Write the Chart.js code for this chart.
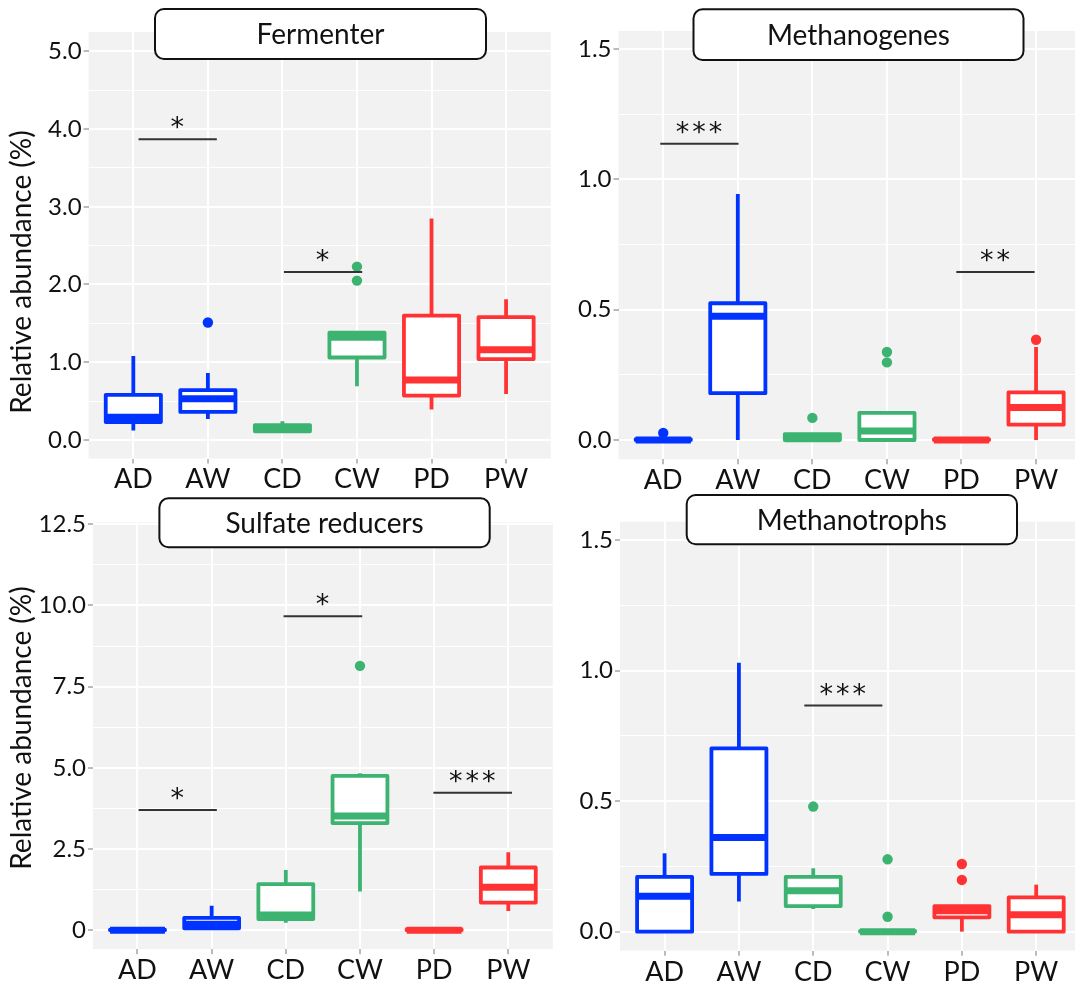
<!DOCTYPE html>
<html>
<head>
<meta charset="utf-8">
<script src="https://cdn.jsdelivr.net/npm/chart.js@4.4.1/dist/chart.umd.min.js"></script>
<style>
  html, body { margin: 0; padding: 0; width: 1075px; height: 985px; overflow: hidden; background: #fff; }
  .panel { position: absolute; }
</style>
</head>
<body>
<div class="panel" style="left:0px;top:0px"><canvas id="ferm" width="556" height="495"></canvas></div>
<div class="panel" style="left:540px;top:0px"><canvas id="mg" width="546" height="495"></canvas></div>
<div class="panel" style="left:0px;top:490px"><canvas id="sr" width="558" height="495"></canvas></div>
<div class="panel" style="left:540px;top:490px"><canvas id="mt" width="546" height="495"></canvas></div>
<script>
const categories = ["AD", "AW", "CD", "CW", "PD", "PW"];
const groupColors = ["#0033ff", "#0033ff", "#3cb371", "#3cb371", "#ff3333", "#ff3333"];

// Fermenter
const fermLow  = [0.12, 0.27, 0.10, 0.69, 0.39, 0.59];
const fermQ1   = [0.23, 0.36, 0.11, 1.06, 0.57, 1.04];
const fermMed  = [0.29, 0.53, 0.15, 1.32, 0.77, 1.16];
const fermQ3   = [0.58, 0.64, 0.19, 1.38, 1.60, 1.58];
const fermHigh = [1.08, 0.86, 0.24, 1.38, 2.85, 1.81];
const fermOutX = [1, 3, 3];
const fermOutY = [1.51, 2.23, 2.05];
const fermTicks = [0, 1, 2, 3, 4, 5];
const fermTickLabels = ["0.0", "1.0", "2.0", "3.0", "4.0", "5.0"];
const fermSigFrom = [0.07, 2.02];
const fermSigTo = [1.12, 3.07];
const fermSigY = [3.87, 2.16];
const fermSigText = ["*", "*"];

// Methanogenes
const mgLow  = [0, 0, 0, 0, 0, 0];
const mgQ1   = [0, 0.18, 0, 0, 0, 0.059];
const mgMed  = [0, 0.475, 0.005, 0.035, 0, 0.125];
const mgQ3   = [0.003, 0.525, 0.023, 0.104, 0.003, 0.183];
const mgHigh = [0.003, 0.944, 0.023, 0.104, 0.003, 0.357];
const mgOutX = [0, 2, 3, 3, 5];
const mgOutY = [0.027, 0.085, 0.338, 0.298, 0.385];
const mgTicks = [0, 0.5, 1, 1.5];
const mgTickLabels = ["0.0", "0.5", "1.0", "1.5"];
const mgSigFrom = [-0.04, 3.93];
const mgSigTo = [1.01, 4.98];
const mgSigY = [1.137, 0.645];
const mgSigText = ["***", "**"];

// Sulfate reducers
const srLow  = [0, 0.05, 0.23, 1.19, 0, 0.59];
const srQ1   = [0, 0.06, 0.345, 3.30, 0, 0.85];
const srMed  = [0, 0.18, 0.47, 3.52, 0, 1.32];
const srQ3   = [0.02, 0.38, 1.42, 4.75, 0.03, 1.93];
const srHigh = [0.02, 0.75, 1.85, 4.83, 0.03, 2.40];
const srOutX = [3];
const srOutY = [8.14];
const srTicks = [0, 2.5, 5, 7.5, 10, 12.5];
const srTickLabels = ["0", "2.5", "5.0", "7.5", "10.0", "12.5"];
const srSigFrom = [0.015, 1.97, 3.99];
const srSigTo = [1.07, 3.03, 5.05];
const srSigY = [3.70, 9.67, 4.23];
const srSigText = ["*", "*", "***"];

// Methanotrophs
const mtLow  = [0, 0.115, 0.087, 0, 0, 0];
const mtQ1   = [0, 0.221, 0.098, 0, 0.055, 0];
const mtMed  = [0.136, 0.361, 0.157, 0, 0.08, 0.065];
const mtQ3   = [0.21, 0.702, 0.21, 0.003, 0.098, 0.131];
const mtHigh = [0.30, 1.03, 0.243, 0.003, 0.098, 0.18];
const mtOutX = [2, 3, 3, 4, 4];
const mtOutY = [0.479, 0.277, 0.057, 0.259, 0.198];
const mtTicks = [0, 0.5, 1, 1.5];
const mtTickLabels = ["0.0", "0.5", "1.0", "1.5"];
const mtSigFrom = [1.88];
const mtSigTo = [2.93];
const mtSigY = [0.866];
const mtSigText = ["***"];

const FONT = "Lato, 'Open Sans', sans-serif";
const STAR_FONT = "'DejaVu Sans', sans-serif";
const yTitle = "Relative abundance (%)";

const makePanel = (id, p) => {
  const ticksAll = [];
  p.ticks.forEach((t, i) => {
    ticksAll.push(t);
    if (i < p.ticks.length - 1) ticksAll.push((t + p.ticks[i + 1]) / 2);
  });
  const isMajor = (v) => p.ticks.indexOf(v) >= 0;

  const decor = {
    id: "decor",
    beforeDraw(chart) {
      const { ctx, chartArea: a } = chart;
      ctx.save();
      ctx.fillStyle = "#f2f2f2";
      ctx.fillRect(a.left, a.top, a.right - a.left, a.bottom - a.top);
      ctx.restore();
    },
    beforeDatasetsDraw(chart) {
      const { ctx } = chart;
      const xs = chart.scales.x, ys = chart.scales.y;
      ctx.save();
      categories.forEach((c, i) => {
        const cx = xs.getPixelForValue(i);
        const half = xs.getPixelForValue(i + 0.37) - cx;
        const yLo = ys.getPixelForValue(p.low[i]);
        const yQ1 = ys.getPixelForValue(p.q1[i]);
        const yMed = ys.getPixelForValue(p.med[i]);
        const yQ3 = ys.getPixelForValue(p.q3[i]);
        const yHi = ys.getPixelForValue(p.high[i]);
        ctx.strokeStyle = groupColors[i];
        ctx.lineWidth = 3.8;
        ctx.lineCap = "butt";
        ctx.beginPath();
        ctx.moveTo(cx, yQ3); ctx.lineTo(cx, yHi);
        ctx.moveTo(cx, yQ1); ctx.lineTo(cx, yLo);
        ctx.stroke();
        ctx.fillStyle = "#ffffff";
        ctx.fillRect(cx - half, yQ3, half * 2, yQ1 - yQ3);
        ctx.lineJoin = "round";
        ctx.strokeRect(cx - half, yQ3, half * 2, yQ1 - yQ3);
        ctx.lineWidth = 7;
        ctx.beginPath();
        ctx.moveTo(cx - half, yMed); ctx.lineTo(cx + half, yMed);
        ctx.stroke();
      });
      ctx.restore();
    },
    afterDraw(chart) {
      const { ctx } = chart;
      const xs = chart.scales.x, ys = chart.scales.y;
      ctx.save();
      // significance brackets
      p.sigY.forEach((v, i) => {
        const x1 = xs.getPixelForValue(p.sigFrom[i]);
        const x2 = xs.getPixelForValue(p.sigTo[i]);
        const y = ys.getPixelForValue(v);
        ctx.strokeStyle = "#333333";
        ctx.lineWidth = 2;
        ctx.beginPath();
        ctx.moveTo(x1, y); ctx.lineTo(x2, y);
        ctx.stroke();
        ctx.fillStyle = "#111111";
        ctx.font = "27px " + STAR_FONT;
        ctx.textAlign = "center";
        ctx.textBaseline = "alphabetic";
        ctx.letterSpacing = "3px";
        ctx.fillText(p.sigText[i], (x1 + x2) / 2 + 1, y - 3);
        ctx.letterSpacing = "0px";
      });
      // strip title box
      const t = p.titleBox;
      ctx.fillStyle = "#ffffff";
      ctx.strokeStyle = "#111111";
      ctx.lineWidth = 2;
      ctx.beginPath();
      ctx.roundRect(t.x, t.y, t.w, t.h, 9);
      ctx.fill();
      ctx.stroke();
      ctx.fillStyle = "#111111";
      ctx.font = "28px " + FONT;
      ctx.textAlign = "center";
      ctx.textBaseline = "middle";
      ctx.fillText(p.title, t.x + t.w / 2, t.y + t.h / 2 + 1);
      // y axis title
      if (p.yTitleAt) {
        ctx.translate(p.yTitleAt.x, p.yTitleAt.y);
        ctx.rotate(-Math.PI / 2);
        ctx.font = "28px " + FONT;
        ctx.fillText(yTitle, 0, 0);
      }
      ctx.restore();
    }
  };

  return new Chart(document.getElementById(id), {
    type: "scatter",
    data: {
      datasets: [{
        data: p.outX.map((x, i) => ({ x: x, y: p.outY[i] })),
        pointRadius: 5.2,
        pointBorderWidth: 0,
        pointBackgroundColor: p.outX.map((x) => groupColors[x]),
        pointHoverRadius: 5.2
      }]
    },
    options: {
      responsive: false,
      animation: false,
      events: [],
      layout: { padding: { top: p.pad.top, right: p.pad.right, left: 0, bottom: 0 } },
      plugins: { legend: { display: false }, tooltip: { enabled: false } },
      scales: {
        x: {
          type: "linear",
          min: -0.6,
          max: 5.6,
          afterBuildTicks: (s) => { s.ticks = categories.map((c, i) => ({ value: i })); },
          afterFit: (s) => { s.height = p.xHeight; },
          ticks: {
            autoSkip: false,
            maxRotation: 0,
            padding: 0,
            color: "#111111",
            font: { family: FONT, size: 27 },
            callback: (v) => categories[v]
          },
          grid: { color: "#ffffff", lineWidth: 2, tickLength: 5, tickColor: "#777777", tickWidth: 1 },
          border: { display: false }
        },
        y: {
          type: "linear",
          min: p.yMin,
          max: p.yMax,
          afterBuildTicks: (s) => { s.ticks = ticksAll.map((v) => ({ value: v })); },
          afterFit: (s) => { s.width = p.yWidth; },
          ticks: {
            autoSkip: false,
            padding: 2,
            color: "#111111",
            font: { family: FONT, size: 24 },
            callback: (v) => (isMajor(v) ? p.tickLabels[p.ticks.indexOf(v)] : "")
          },
          grid: {
            color: "#ffffff",
            lineWidth: (ctx) => (ctx.tick && isMajor(ctx.tick.value) ? 2 : 1),
            tickLength: 5,
            tickWidth: 1,
            tickColor: (ctx) => (ctx.tick && isMajor(ctx.tick.value) ? "#777777" : "rgba(0,0,0,0)")
          },
          border: { display: false }
        }
      }
    },
    plugins: [decor]
  });
};

makePanel("ferm", {
  low: fermLow, q1: fermQ1, med: fermMed, q3: fermQ3, high: fermHigh,
  outX: fermOutX, outY: fermOutY, ticks: fermTicks, tickLabels: fermTickLabels,
  sigFrom: fermSigFrom, sigTo: fermSigTo, sigY: fermSigY, sigText: fermSigText,
  title: "Fermenter", titleBox: { x: 155, y: 9, w: 331, h: 50 },
  yTitleAt: { x: 22, y: 272 },
  yMin: -0.24, yMax: 5.25, pad: { top: 32, right: 2 }, yWidth: 88.6, xHeight: 36.5
});

makePanel("mg", {
  low: mgLow, q1: mgQ1, med: mgMed, q3: mgQ3, high: mgHigh,
  outX: mgOutX, outY: mgOutY, ticks: mgTicks, tickLabels: mgTickLabels,
  sigFrom: mgSigFrom, sigTo: mgSigTo, sigY: mgSigY, sigText: mgSigText,
  title: "Methanogenes", titleBox: { x: 153.5, y: 9.3, w: 330, h: 50.7 },
  yTitleAt: null,
  yMin: -0.074, yMax: 1.57, pad: { top: 31, right: 2 }, yWidth: 78.5, xHeight: 35.7
});

makePanel("sr", {
  low: srLow, q1: srQ1, med: srMed, q3: srQ3, high: srHigh,
  outX: srOutX, outY: srOutY, ticks: srTicks, tickLabels: srTickLabels,
  sigFrom: srSigFrom, sigTo: srSigTo, sigY: srSigY, sigText: srSigText,
  title: "Sulfate reducers", titleBox: { x: 159.4, y: 8.3, w: 330.3, h: 49 },
  yTitleAt: { x: 22, y: 238 },
  yMin: -0.585, yMax: 12.56, pad: { top: 32.3, right: 2.5 }, yWidth: 93, xHeight: 35.8
});

makePanel("mt", {
  low: mtLow, q1: mtQ1, med: mtMed, q3: mtQ3, high: mtHigh,
  outX: mtOutX, outY: mtOutY, ticks: mtTicks, tickLabels: mtTickLabels,
  sigFrom: mtSigFrom, sigTo: mtSigTo, sigY: mtSigY, sigText: mtSigText,
  title: "Methanotrophs", titleBox: { x: 146.7, y: 5, w: 330.3, h: 49.3 },
  yTitleAt: null,
  yMin: -0.073, yMax: 1.57, pad: { top: 31.7, right: 2 }, yWidth: 80, xHeight: 34.3
});
</script>
</body>
</html>
